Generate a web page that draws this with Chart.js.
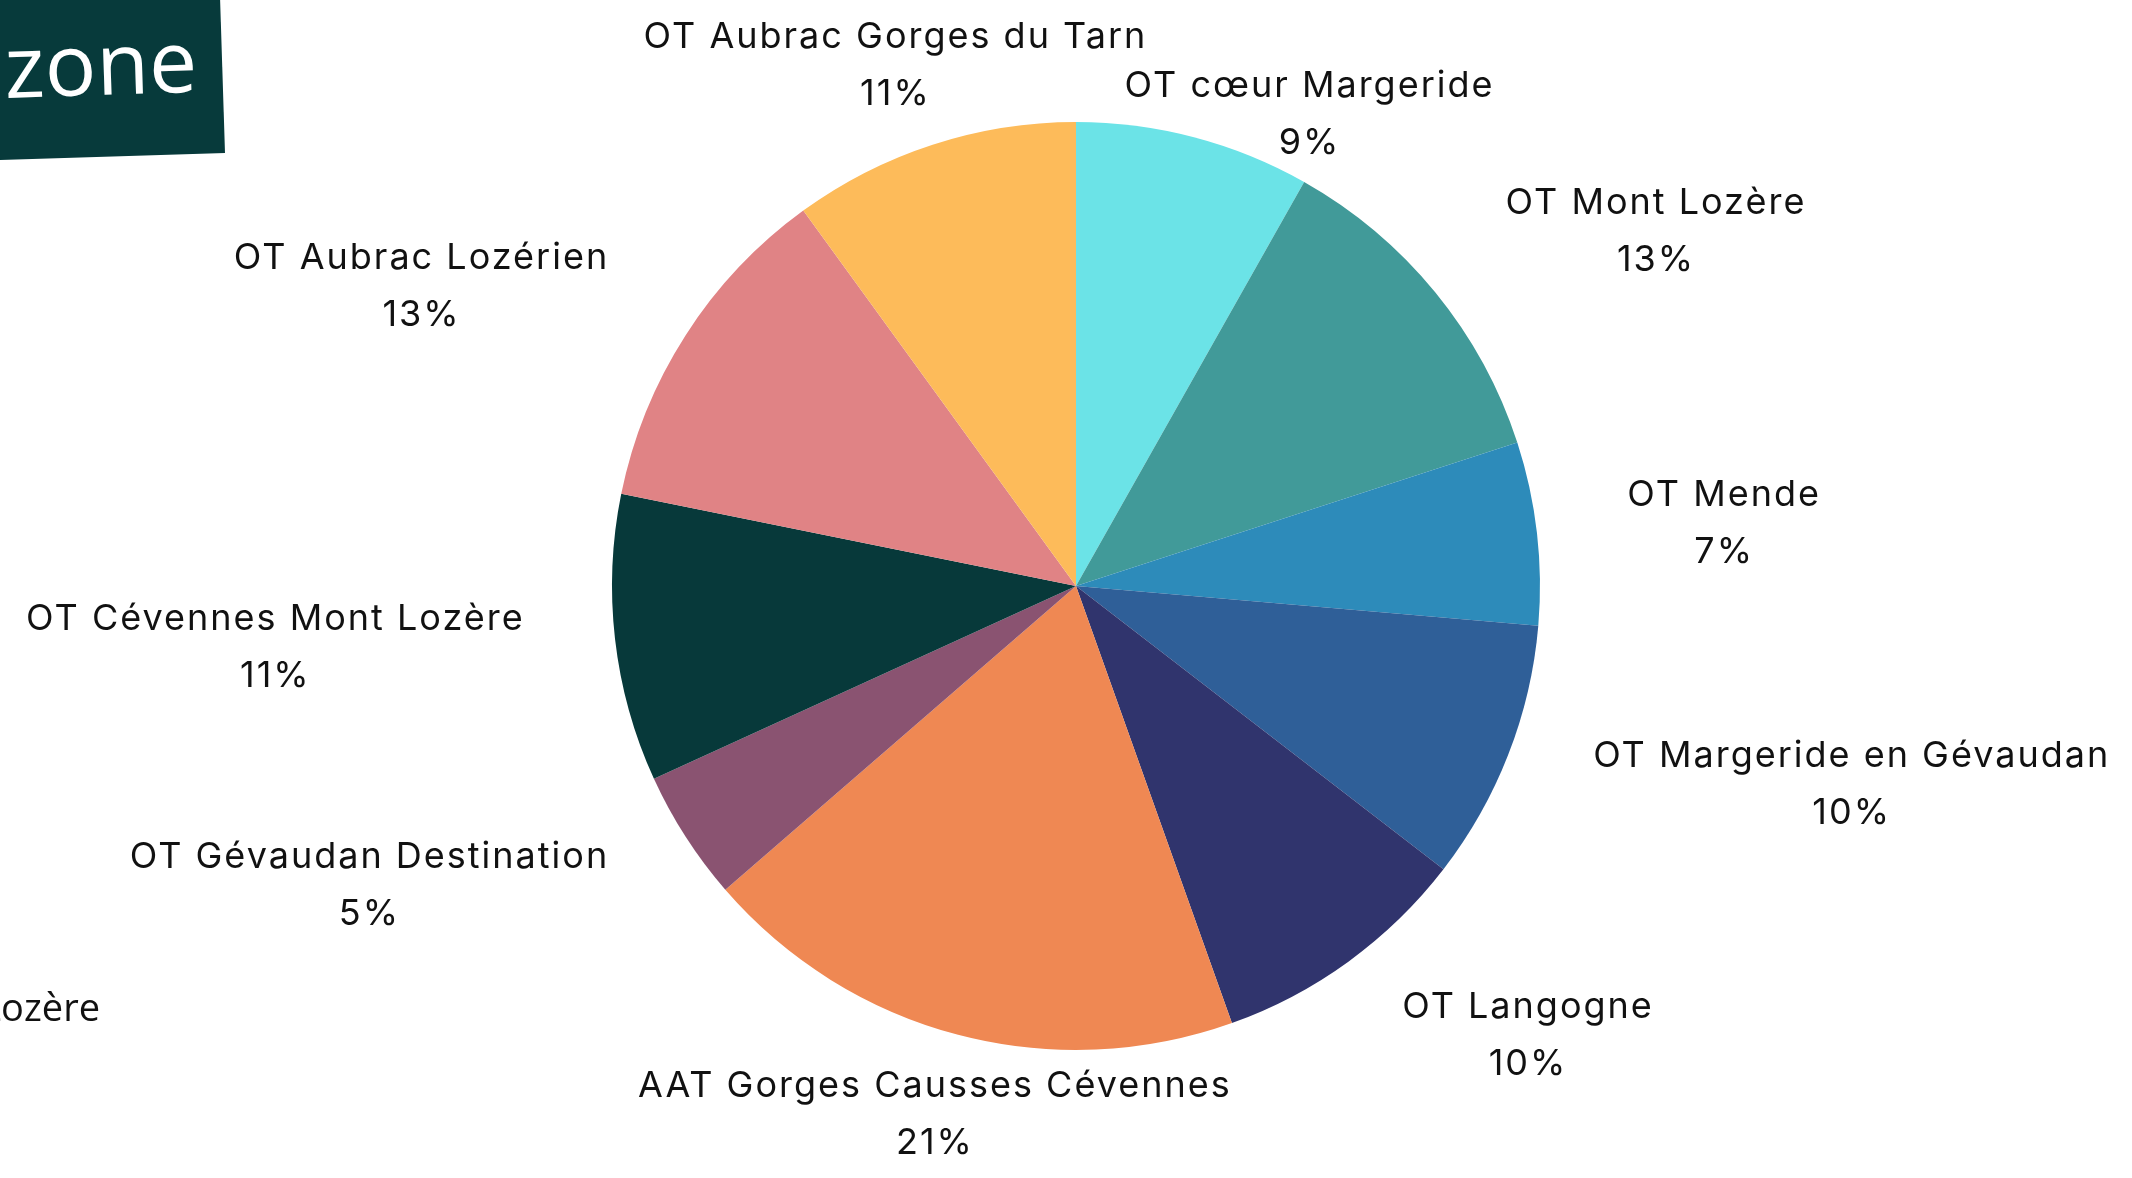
<!DOCTYPE html>
<html>
<head>
<meta charset="utf-8">
<script src="https://cdn.jsdelivr.net/npm/chart.js@4"></script>
<style>
  html, body { margin: 0; padding: 0; background: #fff; }
  #wrap { width: 2132px; height: 1178px; position: relative; }
</style>
</head>
<body>
<div id="wrap"><canvas id="pieChart"></canvas></div>
<script>
// data, clockwise from the top
const offices = ['OT cœur Margeride', 'OT Mont Lozère', 'OT Mende', 'OT Margeride en Gévaudan', 'OT Langogne',
  'AAT Gorges Causses Cévennes', 'OT Gévaudan Destination', 'OT Cévennes Mont Lozère', 'OT Aubrac Lozérien',
  'OT Aubrac Gorges du Tarn'];
const shares = [9, 13, 7, 10, 10, 21, 5, 11, 13, 11];
const sliceColors = ['#6be3e7', '#419a99', '#2d8bba', '#2f5f98', '#30346d', '#ef8853', '#8a5371', '#07393a', '#e08385', '#fdbb5a'];

const labelFont = '36px Inter';

function overlaps(a, b) {
  return a.x1 < b.x2 && a.x2 > b.x1 && a.y1 < b.y2 && a.y2 > b.y1;
}

// labels outside the pie, two lines: name + percent
const outsideLabels = {
  id: 'outsideLabels',
  afterDatasetsDraw(chart) {
    const ctx = chart.ctx;
    const meta = chart.getDatasetMeta(0);
    ctx.save();
    ctx.font = labelFont;
    ctx.letterSpacing = '2px';
    ctx.fillStyle = '#111';
    ctx.textAlign = 'center';
    ctx.textBaseline = 'middle';
    const lineGap = 57;
    const lineH = 40;
    const placed = [];
    // bigger slices get their spot first, smaller ones move on collision
    const order = shares.map((v, i) => i).sort((a, b) => shares[b] - shares[a]);
    order.forEach(i => {
      const arc = meta.data[i];
      const p = arc.getProps(['x', 'y', 'startAngle', 'endAngle', 'outerRadius'], true);
      const mid = (p.startAngle + p.endAngle) / 2;
      const sx = Math.cos(mid), sy = Math.sin(mid);
      const rx = p.outerRadius * 1.196, ry = p.outerRadius * 1.07;
      const line1 = offices[i];
      const line2 = shares[i] + '%';
      const w1 = ctx.measureText(line1).width, w2 = ctx.measureText(line2).width;
      const w = Math.max(w1, w2);
      const h = lineGap + lineH;
      const fx = Math.min(1, Math.max(0, (Math.abs(sx) - 0.3) / 0.25));
      const m = Math.max(Math.abs(sx), Math.abs(sy));
      let cx = p.x + rx * sx + Math.sign(sx) * fx * w / 2;
      let cy = p.y + ry * sy + (sy / m) * h / 2;
      const boxes = (x, y) => [
        { x1: x - w1 / 2, x2: x + w1 / 2, y1: y - lineGap / 2 - lineH / 2, y2: y - lineGap / 2 + lineH / 2 },
        { x1: x - w2 / 2, x2: x + w2 / 2, y1: y + lineGap / 2 - lineH / 2, y2: y + lineGap / 2 + lineH / 2 }
      ];
      let tries = 0;
      while (tries < 6 && boxes(cx, cy).some(b => placed.some(q => overlaps(b, q)))) {
        cy += sy < 0 ? lineGap : -lineGap;
        cx += Math.sign(sx || 1) * w / 4;
        tries++;
      }
      boxes(cx, cy).forEach(b => placed.push(b));
      ctx.fillText(line1, cx, cy - lineGap / 2);
      ctx.fillText(line2, cx, cy + lineGap / 2);
    });
    ctx.restore();
  }
};

// page decorations: logo block top left, cut text bottom left
const decorations = {
  id: 'decorations',
  afterDraw(chart) {
    const ctx = chart.ctx;
    ctx.save();
    ctx.rotate(-0.032);
    ctx.fillStyle = '#073a3b';
    ctx.fillRect(-60, -20, 280, 180);
    ctx.fillStyle = '#ffffff';
    ctx.font = '86px "Open Sans"';
    ctx.textAlign = 'left';
    ctx.textBaseline = 'alphabetic';
    ctx.fillText('zone', 2, 98);
    ctx.restore();

    ctx.save();
    ctx.fillStyle = '#111';
    ctx.font = '38px "Open Sans"';
    ctx.textAlign = 'right';
    ctx.textBaseline = 'alphabetic';
    ctx.fillText('Lozère', 100, 1021);
    ctx.restore();
  }
};

new Chart(document.getElementById('pieChart'), {
  type: 'pie',
  data: {
    labels: offices,
    datasets: [{
      data: shares,
      backgroundColor: sliceColors,
      borderWidth: 0
    }]
  },
  options: {
    responsive: true,
    maintainAspectRatio: false,
    animation: false,
    layout: {
      padding: { left: 612, right: 592, top: 122, bottom: 128 }
    },
    plugins: {
      legend: { display: false },
      tooltip: { enabled: false }
    }
  },
  plugins: [outsideLabels, decorations]
});
</script>
</body>
</html>
